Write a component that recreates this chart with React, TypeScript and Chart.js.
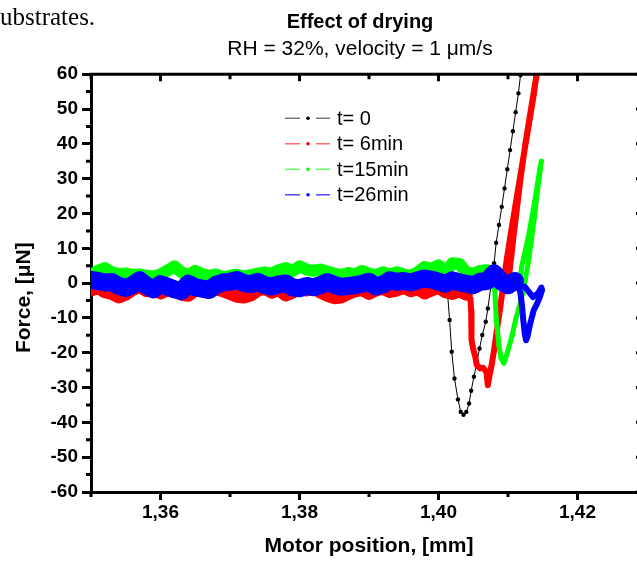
import React, { useEffect, useRef } from 'react';
import { Chart, registerables } from 'chart.js';

Chart.register(...registerables);

// ---------- axis settings ----------
const X_MIN = 1.35;
const X_MAX = 1.43;
const Y_MIN = -60;
const Y_MAX = 60;
const X_TICKS = [1.36, 1.38, 1.40, 1.42];
const X_FRAME_TICKS = [1.35, 1.36, 1.37, 1.38, 1.39, 1.40, 1.41, 1.42, 1.43];
const Y_FRAME_TICKS = [-60, -55, -50, -45, -40, -35, -30, -25, -20, -15, -10, -5, 0, 5, 10, 15, 20, 25, 30, 35, 40, 45, 50, 55, 60];

// ---------- series labels ----------
const LABELS = ['t= 0', 't= 6min', 't=15min', 't=26min'];

// ---------- t = 0 (black) ----------
const t0BaseLen = 29;
const t0X = [
  1.350, 1.352, 1.354, 1.356, 1.358, 1.360, 1.362, 1.364, 1.366, 1.368,
  1.370, 1.372, 1.374, 1.376, 1.378, 1.380, 1.382, 1.384, 1.386, 1.388,
  1.390, 1.392, 1.394, 1.396, 1.398, 1.400, 1.4006, 1.4010, 1.4013,
  1.4016, 1.4019, 1.4023, 1.4028, 1.4032, 1.4036, 1.4040, 1.4044, 1.4047, 1.4051,
  1.4055, 1.4059, 1.4063, 1.4068, 1.4071, 1.4076, 1.4080, 1.4083, 1.4087, 1.4091,
  1.4095, 1.4099, 1.4103, 1.4107, 1.4111, 1.4115, 1.4118, 1.4121,
];
const t0Y = [
  -3.5, -2.8, -2.0, -3.0, -2.4, -1.8, -2.6, -3.2, -2.0, -1.6,
  -2.5, -2.0, -3.0, -2.2, -1.5, -2.4, -2.8, -1.8, -2.2, -3.0,
  -2.0, -1.4, -2.2, -2.6, -1.8, -2.0, -1.5, -1.8, -3.0,
  -10.6, -19.7, -27.4, -33.4, -37.0, -37.8, -37.0, -34.6, -30.9, -26.9,
  -23.0, -18.8, -14.9, -11.1, -7.3, 0.0, 5.7, 11.6, 16.7, 21.9,
  27.2, 32.7, 38.2, 43.6, 49.1, 54.5, 59.7, 65.0,
];

// ---------- t = 6 min (red) ----------
const t6BaseLen = 55;
const t6X = [
  1.350, 1.351, 1.352, 1.353, 1.354, 1.355, 1.356, 1.357, 1.358, 1.359,
  1.360, 1.361, 1.362, 1.363, 1.364, 1.365, 1.366, 1.367, 1.368, 1.369,
  1.370, 1.371, 1.372, 1.373, 1.374, 1.375, 1.376, 1.377, 1.378, 1.379,
  1.380, 1.381, 1.382, 1.383, 1.384, 1.385, 1.386, 1.387, 1.388, 1.389,
  1.390, 1.391, 1.392, 1.393, 1.394, 1.395, 1.396, 1.397, 1.398, 1.399,
  1.400, 1.401, 1.402, 1.403, 1.404,
  1.4046, 1.4047, 1.4047, 1.4048, 1.4050, 1.4053, 1.4055, 1.4060, 1.4064, 1.4069,
  1.4071, 1.4073, 1.4076, 1.4080, 1.4084, 1.4089, 1.4094, 1.4098, 1.4103, 1.4110,
  1.4115, 1.4122, 1.4130, 1.4137, 1.4141, 1.4145,
  1.4138, 1.4125, 1.4118, 1.4112, 1.4108, 1.4105, 1.4102, 1.4098, 1.4092,
];
const t6Y = [
  -2.0, -1.2, -2.5, -3.0, -4.0, -3.2, -1.8, -1.0, -2.2, -1.5,
  -2.8, -2.0, -1.4, -3.2, -3.5, -2.0, -1.2, -2.4, -1.6, -2.2,
  -3.0, -3.8, -4.0, -3.4, -2.0, -1.5, -2.6, -1.8, -3.4, -2.6,
  -1.4, -2.0, -1.2, -2.6, -3.5, -4.2, -4.0, -3.0, -2.2, -1.8,
  -3.0, -2.0, -1.5, -2.4, -2.0, -1.2, -2.2, -1.6, -2.8, -2.0,
  -1.2, -2.5, -3.0, -2.2, -3.2,
  -4.5, -8.0, -12.0, -16.4, -19.0, -21.2, -23.5, -24.5, -24.3, -25.5,
  -29.3, -27.0, -24.0, -19.2, -13.5, -6.8, 0.9, 6.5, 13.0, 21.5,
  27.5, 36.0, 45.5, 54.0, 60.0, 64.0,
  56.0, 40.0, 30.0, 20.0, 13.5, 8.0, 3.0, -1.0, -3.0,
];

// ---------- t = 15 min (green) ----------
const t15BaseLen = 58;
const t15X = [
  1.350, 1.351, 1.352, 1.353, 1.354, 1.355, 1.356, 1.357, 1.358, 1.359,
  1.360, 1.361, 1.362, 1.363, 1.364, 1.365, 1.366, 1.367, 1.368, 1.369,
  1.370, 1.371, 1.372, 1.373, 1.374, 1.375, 1.376, 1.377, 1.378, 1.379,
  1.380, 1.381, 1.382, 1.383, 1.384, 1.385, 1.386, 1.387, 1.388, 1.389,
  1.390, 1.391, 1.392, 1.393, 1.394, 1.395, 1.396, 1.397, 1.398, 1.399,
  1.400, 1.401, 1.402, 1.403, 1.404, 1.405, 1.406, 1.407,
  1.4078, 1.4081, 1.4082, 1.4083, 1.4085, 1.4087, 1.4090, 1.4094, 1.4099, 1.4106,
  1.4111, 1.4116, 1.4121, 1.4125, 1.4130, 1.4134, 1.4138, 1.4142, 1.4146, 1.4148,
  1.4146, 1.4138, 1.4129, 1.4120, 1.4116,
];
const t15Y = [
  2.3, 3.6, 4.3, 3.1, 2.6, 2.8, 2.3, 2.5, 2.1, 1.9,
  2.5, 3.6, 4.8, 3.1, 2.3, 3.5, 2.6, 2.1, 2.5, 1.6,
  2.1, 2.4, 1.9, 2.3, 2.7, 3.1, 2.7, 3.7, 4.3, 3.5,
  4.8, 3.9, 3.5, 3.9, 3.3, 2.7, 2.3, 2.9, 2.5, 3.5,
  2.7, 2.3, 3.1, 2.5, 3.1, 2.5, 2.1, 3.1, 4.6, 4.1,
  5.1, 3.1, 5.7, 5.5, 3.1, 2.7, 3.5, 3.7,
  2.0, -2.0, -6.0, -10.0, -14.0, -18.0, -21.5, -23.0, -20.0, -15.0,
  -10.5, -7.0, -3.0, 1.0, 7.0, 13.0, 19.0, 26.0, 32.0, 35.0,
  33.0, 23.0, 13.0, 5.0, 0.0,
];

// ---------- t = 26 min (blue) ----------
const t26BaseLen = 62;
const t26X = [
  1.350, 1.351, 1.352, 1.353, 1.354, 1.355, 1.356, 1.357, 1.358, 1.359,
  1.360, 1.361, 1.362, 1.363, 1.364, 1.365, 1.366, 1.367, 1.368, 1.369,
  1.370, 1.371, 1.372, 1.373, 1.374, 1.375, 1.376, 1.377, 1.378, 1.379,
  1.380, 1.381, 1.382, 1.383, 1.384, 1.385, 1.386, 1.387, 1.388, 1.389,
  1.390, 1.391, 1.392, 1.393, 1.394, 1.395, 1.396, 1.397, 1.398, 1.399,
  1.400, 1.401, 1.402, 1.403, 1.404, 1.405, 1.406, 1.407, 1.408, 1.409,
  1.410, 1.411,
  1.4115, 1.4118, 1.4120, 1.4122, 1.4124, 1.4126, 1.4128, 1.4132, 1.4137, 1.4142,
  1.4146, 1.4149, 1.4148, 1.4143, 1.4136, 1.4130, 1.4124,
];
const t26Y = [
  0.9, 0.6, 0.2, 0.3, -0.8, -1.4, -0.5, 0.8, -0.8, -1.8,
  -0.3, -1.0, -1.8, -2.3, -0.2, -1.2, -1.6, -2.0, -0.5, 0.2,
  0.4, 0.9, 0.0, -0.3, 0.4, -0.6, -1.0, -0.4, -0.1, -1.2,
  -1.5, -0.8, -1.2, -0.6, 0.3, -0.5, -1.1, -0.8, -0.6, -0.2,
  0.4, -1.0, -0.4, 0.8, 0.4, 0.6, 0.2, 0.8, 1.3, 1.0,
  0.4, -0.2, 0.8, 0.2, -0.2, -0.6, 0.4, 0.6, 2.8, 0.5,
  -0.6, 0.6,
  -0.5, -3.0, -6.3, -10.6, -14.4, -16.4, -15.4, -11.6, -7.8, -5.8,
  -3.9, -2.0, -1.3, -3.0, -4.0, -2.5, -1.0,
];

const FONT = "'Liberation Sans', Arial, Helvetica, sans-serif";

function toXY(xs: number[], ys: number[]) {
  return xs.map((x, i) => ({ x, y: ys[i] }));
}

// each series = a thick noisy baseline part + a thinner approach/retract part
function makeSeries(
  label: string,
  xs: number[],
  ys: number[],
  baseLen: number,
  color: string,
  legendLine: string,
  thick: number,
  thin: number,
  radius: number,
  order: number
) {
  const pts = toXY(xs, ys);
  const common = {
    borderColor: color,
    backgroundColor: color,
    pointBackgroundColor: color,
    pointBorderColor: color,
    pointBorderWidth: 0,
    pointRadius: radius,
    borderJoinStyle: 'round',
    borderCapStyle: 'round',
    tension: 0,
    fill: false,
    order,
    legendLine,
  };
  return [
    { ...common, label, showInLegend: true, data: pts.slice(0, baseLen), borderWidth: thick },
    { ...common, label: label + ' ', showInLegend: false, data: pts.slice(baseLen - 1), borderWidth: thin },
  ];
}

const framePlugin = {
  id: 'frameTicks',
  afterDraw(chart: any) {
    const { ctx, chartArea: a, scales } = chart;
    const x = scales.x;
    const y = scales.y;
    ctx.save();
    ctx.strokeStyle = '#000';
    ctx.lineWidth = 3;
    ctx.beginPath();
    ctx.moveTo(a.left - 1.5, a.top);
    ctx.lineTo(a.right + 1.5, a.top);
    ctx.moveTo(a.right, a.top);
    ctx.lineTo(a.right, a.bottom);
    ctx.stroke();
    ctx.beginPath();
    X_FRAME_TICKS.forEach((v) => {
      const px = x.getPixelForValue(v);
      const major = X_TICKS.some((t) => Math.abs(t - v) < 1e-9);
      ctx.moveTo(px, a.top);
      ctx.lineTo(px, a.top + (major ? 7 : 5));
      if (!major) {
        ctx.moveTo(px, a.bottom);
        ctx.lineTo(px, a.bottom + 5);
      }
    });
    Y_FRAME_TICKS.forEach((v) => {
      const py = y.getPixelForValue(v);
      const major = v % 10 === 0;
      if (!major) {
        ctx.moveTo(a.left, py);
        ctx.lineTo(a.left - 5, py);
      }
      ctx.moveTo(a.right, py);
      ctx.lineTo(a.right - (major ? 11 : 6), py);
    });
    ctx.stroke();
    ctx.restore();
  },
};

const legendPlugin = {
  id: 'insideLegend',
  afterDraw(chart: any) {
    const { ctx, chartArea } = chart;
    const x0 = chartArea.left + 194;
    const y0 = chartArea.top + 44;
    const rowH = 25.5;
    const items = chart.data.datasets.filter((ds: any) => ds.showInLegend);
    items.forEach((ds: any, i: number) => {
      const yy = y0 + i * rowH;
      ctx.save();
      ctx.strokeStyle = ds.legendLine;
      ctx.lineWidth = 1.6;
      ctx.beginPath();
      ctx.moveTo(x0, yy);
      ctx.lineTo(x0 + 15, yy);
      ctx.moveTo(x0 + 31, yy);
      ctx.lineTo(x0 + 45, yy);
      ctx.stroke();
      ctx.fillStyle = ds.borderColor;
      ctx.beginPath();
      ctx.arc(x0 + 23, yy, 1.8, 0, Math.PI * 2);
      ctx.fill();
      ctx.fillStyle = '#000';
      ctx.font = `20px ${FONT}`;
      ctx.textBaseline = 'middle';
      ctx.textAlign = 'left';
      ctx.fillText(ds.label, x0 + 52, yy + 1);
      ctx.restore();
    });
  },
};

export default function App() {
  const ref = useRef<HTMLCanvasElement>(null);

  useEffect(() => {
    if (!ref.current) return;
    Chart.defaults.font.family = FONT;
    Chart.defaults.color = '#000';
    const chart = new Chart(ref.current, {
      type: 'line',
      data: {
        datasets: [
          ...makeSeries(LABELS[0], t0X, t0Y, t0BaseLen, '#000000', '#7a7a7a', 1, 1, 2.2, 4),
          ...makeSeries(LABELS[1], t6X, t6Y, t6BaseLen, '#ff0000', '#ff6a6a', 13, 6, 2.5, 3),
          ...makeSeries(LABELS[2], t15X, t15Y, t15BaseLen, '#00ff00', '#6aff6a', 12, 5, 2.5, 2),
          ...makeSeries(LABELS[3], t26X, t26Y, t26BaseLen, '#0000ff', '#4a4aff', 18, 6, 2.5, 1),
        ] as any,
      },
      options: {
        responsive: false,
        animation: false,
        events: [],
        layout: { padding: 0 },
        plugins: {
          legend: { display: false },
          tooltip: { enabled: false },
          title: {
            display: true,
            text: 'Effect of drying',
            color: '#000',
            font: { size: 20, weight: 'bold' },
            padding: { top: 10, bottom: 0 },
          },
          subtitle: {
            display: true,
            text: 'RH = 32%, velocity = 1 μm/s',
            color: '#000',
            font: { size: 21, weight: 'normal' },
            padding: { top: 3, bottom: 12 },
          },
        },
        scales: {
          x: {
            type: 'linear',
            position: 'bottom',
            min: X_MIN,
            max: X_MAX,
            afterFit: (s: any) => {
              s.height = 69;
            },
            afterBuildTicks: (s: any) => {
              s.ticks = X_TICKS.map((v) => ({ value: v }));
            },
            border: { display: true, color: '#000', width: 3 },
            grid: {
              drawOnChartArea: false,
              drawTicks: true,
              tickLength: 8,
              tickWidth: 3,
              tickColor: '#000',
              color: '#000',
            },
            ticks: {
              autoSkip: false,
              maxRotation: 0,
              padding: 1,
              color: '#000',
              font: { size: 19, weight: 'bold' },
              callback: (v: any) => Number(v).toFixed(2).replace('.', ','),
            },
            title: {
              display: true,
              text: 'Motor position, [mm]',
              color: '#000',
              font: { size: 21, weight: 'bold' },
              padding: { top: 0, bottom: 2 },
            },
          },
          y: {
            type: 'linear',
            position: 'left',
            min: Y_MIN,
            max: Y_MAX,
            afterFit: (s: any) => {
              s.width = 91;
            },
            border: { display: true, color: '#000', width: 3 },
            grid: {
              drawOnChartArea: false,
              drawTicks: true,
              tickLength: 9,
              tickWidth: 3,
              tickColor: '#000',
              color: '#000',
            },
            ticks: {
              stepSize: 10,
              padding: 4,
              color: '#000',
              font: { size: 19, weight: 'bold' },
              callback: (v: any) => String(v),
            },
            title: {
              display: true,
              text: 'Force, [μN]     ',
              color: '#000',
              font: { size: 21, weight: 'bold' },
              padding: { top: 12, bottom: 0 },
            },
          },
          y2: {
            type: 'linear',
            position: 'right',
            min: Y_MIN,
            max: Y_MAX,
            afterFit: (s: any) => {
              s.width = 73;
            },
            ticks: { display: false },
            grid: { display: false, drawTicks: false },
            border: { display: false },
          },
        },
      } as any,
      plugins: [framePlugin, legendPlugin],
    });
    return () => chart.destroy();
  }, []);

  return (
    <div
      style={{
        position: 'fixed',
        left: 0,
        top: 0,
        width: 637,
        height: 561,
        overflow: 'hidden',
        background: '#fff',
      }}
    >
      <canvas
        ref={ref}
        width={720}
        height={561}
        style={{ position: 'absolute', left: 0, top: 0, width: 720, height: 561 }}
      />
      <div
        style={{
          position: 'absolute',
          left: 0,
          top: 4,
          font: "25px 'Liberation Serif', 'Times New Roman', serif",
          lineHeight: '25px',
          whiteSpace: 'nowrap',
          color: '#000',
        }}
      >
        ubstrates.
      </div>
    </div>
  );
}
